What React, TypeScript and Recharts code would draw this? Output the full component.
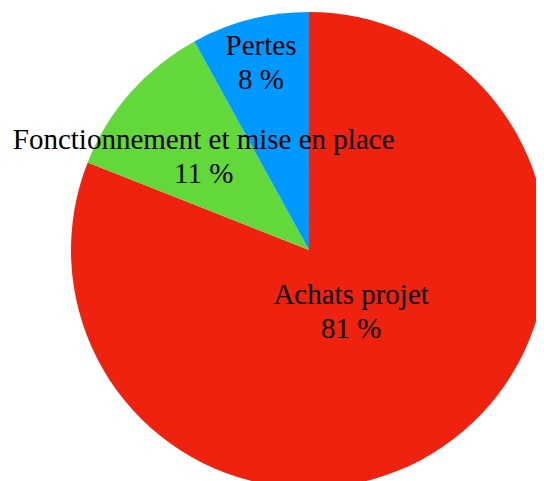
import React from 'react';
import { PieChart, Pie, Cell } from 'recharts';

const categories = ['Achats projet', 'Fonctionnement et mise en place', 'Pertes'];
const shares = [81, 11, 8];
const colors = ['#EE220F', '#62D83A', '#0099FF'];

const data = categories.map((name, i) => ({ name, value: shares[i] }));

// how far out each label sits, as a fraction of the radius
const labelRadius = [0.315, 0.59, 0.81];

const RADIAN = Math.PI / 180;

const renderLabel = (props: any) => {
    const { cx, cy, midAngle, outerRadius, index, name, percent } = props;
    const r = outerRadius * labelRadius[index];
    const x = cx + r * Math.cos(-midAngle * RADIAN);
    const y = cy + r * Math.sin(-midAngle * RADIAN);
    return (
        <text
            x={x}
            y={y}
            textAnchor="middle"
            fill="#000"
            fontFamily="'Liberation Serif', 'Times New Roman', serif"
            fontSize={29}
        >
            <tspan x={x} y={y - 8}>{name}</tspan>
            <tspan x={x} y={y + 26}>{`${Math.round(percent * 100)} %`}</tspan>
        </text>
    );
};

const App: React.FC = () => {
    return (
        <div style={{ width: 536, height: 473 }}>
            <PieChart width={536} height={473} margin={{ top: 0, right: 0, bottom: 0, left: 0 }}>
                <Pie
                    data={data}
                    dataKey="value"
                    nameKey="name"
                    cx={301}
                    cy={242}
                    outerRadius={238}
                    startAngle={90}
                    endAngle={-270}
                    stroke="none"
                    label={renderLabel}
                    labelLine={false}
                    isAnimationActive={false}
                >
                    {data.map((d, i) => (
                        <Cell key={d.name} fill={colors[i]} />
                    ))}
                </Pie>
            </PieChart>
        </div>
    );
};

export default App;
